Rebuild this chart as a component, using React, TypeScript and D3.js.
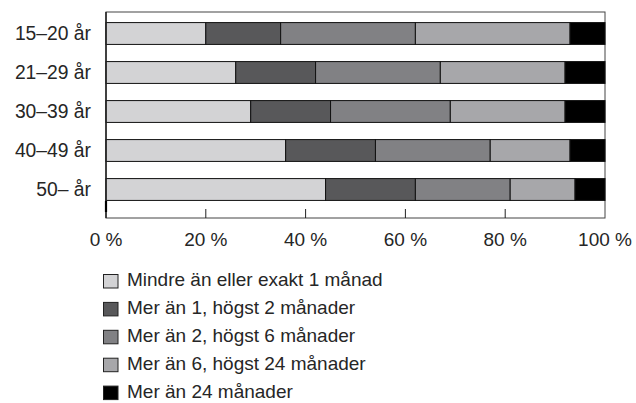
import React from "react";
import * as d3 from "d3";

const ageGroups = ["15–20 år", "21–29 år", "30–39 år", "40–49 år", "50– år"];
const seriesNames = [
  "Mindre än eller exakt 1 månad",
  "Mer än 1, högst 2 månader",
  "Mer än 2, högst 6 månader",
  "Mer än 6, högst 24 månader",
  "Mer än 24 månader",
];
const upTo1 = [20, 26, 29, 36, 44];
const from1to2 = [15, 16, 16, 18, 18];
const from2to6 = [27, 25, 24, 23, 19];
const from6to24 = [31, 25, 23, 16, 13];
const over24 = [7, 8, 8, 7, 6];
const tickValues = [0, 20, 40, 60, 80, 100];
const colors = ["#d3d3d5", "#58585a", "#818184", "#a7a7aa", "#000000"];

const width = 636;
const height = 403;
const left = 106;
const right = 605;
const top = 12;
const bottom = 218;
const font = "'Liberation Sans', Arial, sans-serif";
const textColor = "#262626";

export default function App() {
  const rows = ageGroups.map((g, i) => ({
    group: g,
    s0: upTo1[i],
    s1: from1to2[i],
    s2: from2to6[i],
    s3: from6to24[i],
    s4: over24[i],
  }));
  const keys = ["s0", "s1", "s2", "s3", "s4"];
  const stacked = d3.stack<any>().keys(keys)(rows);

  const x = d3.scaleLinear().domain([0, 100]).range([left, right]);
  const y = d3.scaleBand().domain(ageGroups).range([14, 209]).paddingInner(0.44).paddingOuter(0.22);

  return (
    <svg width={width} height={height} style={{ position: "absolute", left: 0, top: 0 }}>
      <rect x={0} y={0} width={width} height={height} fill="#fff" />
      <rect x={left} y={top} width={right - left} height={bottom - top} fill="none" stroke="#444" strokeWidth={1} />
      {stacked.map((layer, si) => (
        <g key={si} fill={colors[si]}>
          {layer.map((d, i) => (
            <rect
              key={i}
              x={x(d[0])}
              y={y(ageGroups[i])}
              width={x(d[1]) - x(d[0])}
              height={y.bandwidth()}
              stroke="#111"
              strokeWidth={1}
            />
          ))}
        </g>
      ))}
      <line x1={left} x2={left} y1={top} y2={bottom} stroke="#222" strokeWidth={1.5} />
      {/* small darker stub at the bottom of the left axis */}
      <line x1={left} x2={left} y1={201} y2={212} stroke="#000" strokeWidth={2.2} />
      {tickValues.map((t) => (
        <g key={t}>
          {t > 0 && t < 100 && (
            <line x1={x(t)} x2={x(t)} y1={209} y2={bottom} stroke="#222" strokeWidth={1} />
          )}
          <text x={x(t)} y={246} textAnchor="middle" fontFamily={font} fontSize={19} fill={textColor}>
            {t + " %"}
          </text>
        </g>
      ))}
      {ageGroups.map((g) => (
        <text
          key={g}
          x={91}
          y={(y(g) as number) + y.bandwidth() / 2 + 6}
          textAnchor="end"
          fontFamily={font}
          fontSize={19.3}
          fill={textColor}
        >
          {g}
        </text>
      ))}
      {seriesNames.map((name, i) => (
        <g key={name} transform={`translate(0,${281 + i * 27.9})`}>
          <rect x={103.5} y={-6.5} width={14.5} height={13.5} fill={colors[i]} stroke="#222" strokeWidth={1} />
          <text x={127} y={5} fontFamily={font} fontSize={19} fill={textColor}>
            {name}
          </text>
        </g>
      ))}
    </svg>
  );
}
